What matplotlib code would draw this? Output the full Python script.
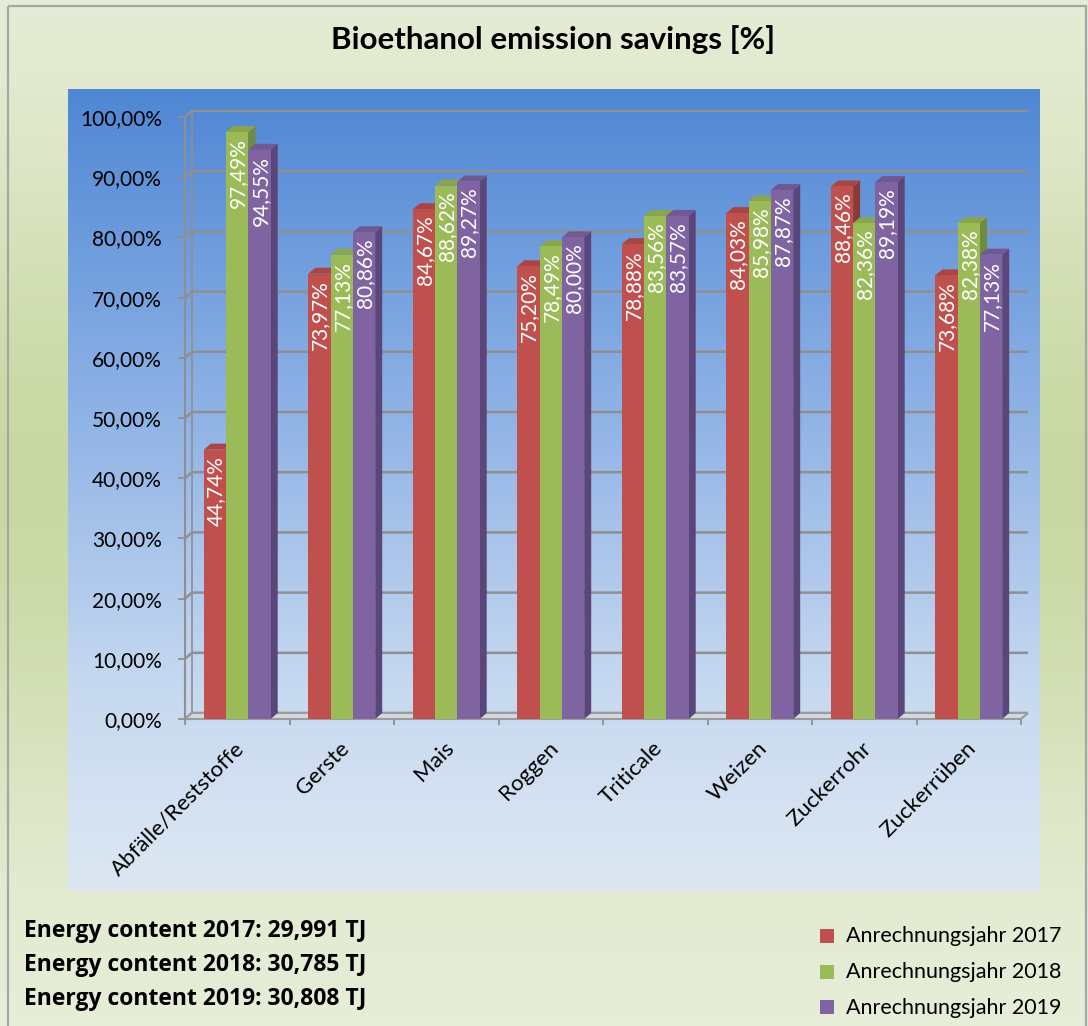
import numpy as np
import matplotlib
matplotlib.use("Agg")
import matplotlib.pyplot as plt
from matplotlib.patches import Polygon, Rectangle
from matplotlib.colors import to_rgb

# ---------------- data ----------------
title = "Bioethanol emission savings [%]"
categories = ["Abfälle/Reststoffe", "Gerste", "Mais", "Roggen", "Triticale",
              "Weizen", "Zuckerrohr", "Zuckerrüben"]
series_names = ["Anrechnungsjahr 2017", "Anrechnungsjahr 2018", "Anrechnungsjahr 2019"]
values_2017 = [44.74, 73.97, 84.67, 75.20, 78.88, 84.03, 88.46, 73.68]
values_2018 = [97.49, 77.13, 88.62, 78.49, 83.56, 85.98, 82.36, 82.38]
values_2019 = [94.55, 80.86, 89.27, 80.00, 83.57, 87.87, 89.19, 77.13]
y_ticks = [0, 10, 20, 30, 40, 50, 60, 70, 80, 90, 100]
energy_lines = ["Energy content 2017: 29,991 TJ",
                "Energy content 2018: 30,785 TJ",
                "Energy content 2019: 30,808 TJ"]

front_colors = ["#c0504d", "#9bbb59", "#8064a2"]
side_colors = ["#8c3a38", "#718a3f", "#5a4679"]
top_colors = ["#a94643", "#89a64d", "#705892"]

FONT = "Lato"
plt.rcParams["font.family"] = [FONT, "DejaVu Sans"]

W, H, DPI = 1088, 1026, 100
fig = plt.figure(figsize=(W / DPI, H / DPI), dpi=DPI)

# ---------------- background ----------------
bg = fig.add_axes([0, 0, 1, 1], zorder=-10)
bg.set_xlim(0, W)
bg.set_ylim(H, 0)
bg.axis("off")

yy = np.arange(H)[:, None]
s = np.exp(-((yy - 480) / 330.0) ** 2)
light = np.array(to_rgb("#e9efdc"))
dark = np.array(to_rgb("#c9d8a3"))
outer = light[None, None, :] * (1 - s[..., None]) + dark[None, None, :] * s[..., None]
outer = np.repeat(outer, 2, axis=1)
bg.imshow(outer, extent=(0, W, H, 0), aspect="auto", interpolation="bilinear", zorder=0)

# inner blue gradient
blue_stops_y = [0.0, 0.38, 0.76, 1.0]
blue_stops_c = ["#4f87d4", "#8bb0e5", "#c8daf0", "#dde7f3"]
t = np.linspace(0, 1, 400)
cols = np.stack([np.interp(t, blue_stops_y, [to_rgb(c)[j] for c in blue_stops_c]) for j in range(3)], axis=1)
blue = cols[:, None, :].repeat(2, axis=1)
bg.imshow(blue, extent=(68, 1040, 891, 89), aspect="auto", interpolation="bilinear", zorder=1)

bg.add_patch(Rectangle((7.5, 5.5), 1078, 1030, fill=False, edgecolor="#a6a6a6", lw=1.6, zorder=2))

# ---------------- main axes ----------------
ax_left, ax_right, ax_bottom, ax_top = 185, 1021, 719, 117
ax = fig.add_axes([ax_left / W, 1 - ax_bottom / H, (ax_right - ax_left) / W, (ax_bottom - ax_top) / H])
ax.patch.set_visible(False)
ncat = len(categories)
ax.set_xlim(-0.5, ncat - 0.5)
ax.set_ylim(0, 100)
for sp in ax.spines.values():
    sp.set_visible(False)

px_x = (ax_right - ax_left) / ncat
px_y = (ax_bottom - ax_top) / 100.0
DXp, DYp = 7, 6
ddx, ddy = DXp / px_x, DYp / px_y

grid_c = "#8f8f8f"
# back-wall gridlines with 3D stub
for v in y_ticks:
    ax.plot([-0.5, -0.5 + ddx, ncat - 0.5 + ddx], [v, v + ddy, v + ddy],
            color=grid_c, lw=1.8, zorder=1, clip_on=False, solid_capstyle="butt")
ax.plot([-0.5, -0.5], [0, 100], color=grid_c, lw=1.5, zorder=1, clip_on=False)
ax.plot([-0.5 + ddx] * 2, [ddy, 100 + ddy], color=grid_c, lw=1.2, zorder=1, clip_on=False)

# floor
ax.add_patch(Polygon([(-0.5, 0), (ncat - 0.5, 0), (ncat - 0.5 + ddx, ddy), (-0.5 + ddx, ddy)],
                     closed=True, facecolor="#d3d9e0", edgecolor="#9c9c9c", lw=1.5,
                     zorder=1.5, clip_on=False))

# ---------------- bars ----------------
all_values = [values_2017, values_2018, values_2019]
bw = 22.3 / px_x
x = np.arange(ncat)
for k, vals in enumerate(all_values):
    xc = x + (k - 1) * bw
    z = 3 + k
    for xi, h in zip(xc, vals):
        x0, x1 = xi - bw / 2, xi + bw / 2
        ax.add_patch(Polygon([(x1, 0), (x1 + ddx, ddy), (x1 + ddx, h + ddy), (x1, h)],
                             closed=True, facecolor=side_colors[k], edgecolor="none",
                             zorder=z, clip_on=False))
        ax.add_patch(Polygon([(x0, h), (x1, h), (x1 + ddx, h + ddy), (x0 + ddx, h + ddy)],
                             closed=True, facecolor=top_colors[k], edgecolor="none",
                             zorder=z, clip_on=False))
    ax.bar(xc, vals, width=bw, color=front_colors[k], zorder=z + 0.5, linewidth=0,
           label=series_names[k])
    for xi, h in zip(xc, vals):
        lab = f"{h:.2f}".replace(".", ",") + "%"
        ax.annotate(lab, xy=(xi, h), xytext=(1, -6), textcoords="offset pixels",
                    rotation=90, ha="center", va="top", color="white",
                    fontsize=15, zorder=20)

# ---------------- axes ticks ----------------
ax.set_yticks(y_ticks)
ax.set_yticklabels([f"{v:.2f}".replace(".", ",") + "%" for v in y_ticks], fontsize=15)
ax.tick_params(axis="y", length=5, width=1.3, color=grid_c, pad=11.5, labelcolor="black")
ax.set_xticks([])
ax.set_xticks(np.arange(-0.5, ncat, 1.0), minor=True)
ax.tick_params(axis="x", which="minor", length=4.5, width=1.3, color=grid_c, direction="out")
for i, c in enumerate(categories):
    ax.annotate(c, xy=(i, 0), xycoords=("data", "axes fraction"), xytext=(-3, -19),
                textcoords="offset pixels", rotation=45, rotation_mode="anchor",
                ha="right", va="top", fontsize=16)

# ---------------- title & notes ----------------
fig.text(553 / W, 1 - 40 / H, title, ha="center", va="center", fontsize=22.5, fontweight="bold")
for j, line in enumerate(energy_lines):
    fig.text(24 / W, 1 - (937 + 34 * j) / H, line, ha="left", va="baseline",
             fontsize=16.5, fontweight="bold", family=["Open Sans", "DejaVu Sans"])

# legend (manual)
for j, name in enumerate(series_names):
    y_top = 929 + 35.5 * j
    bg.add_patch(Rectangle((820, y_top), 14, 14, facecolor=front_colors[j], edgecolor="none", zorder=3))
    bg.text(846, y_top + 13.5, name, ha="left", va="baseline", fontsize=15.5, zorder=3)

fig.savefig("out.png", dpi=DPI)
